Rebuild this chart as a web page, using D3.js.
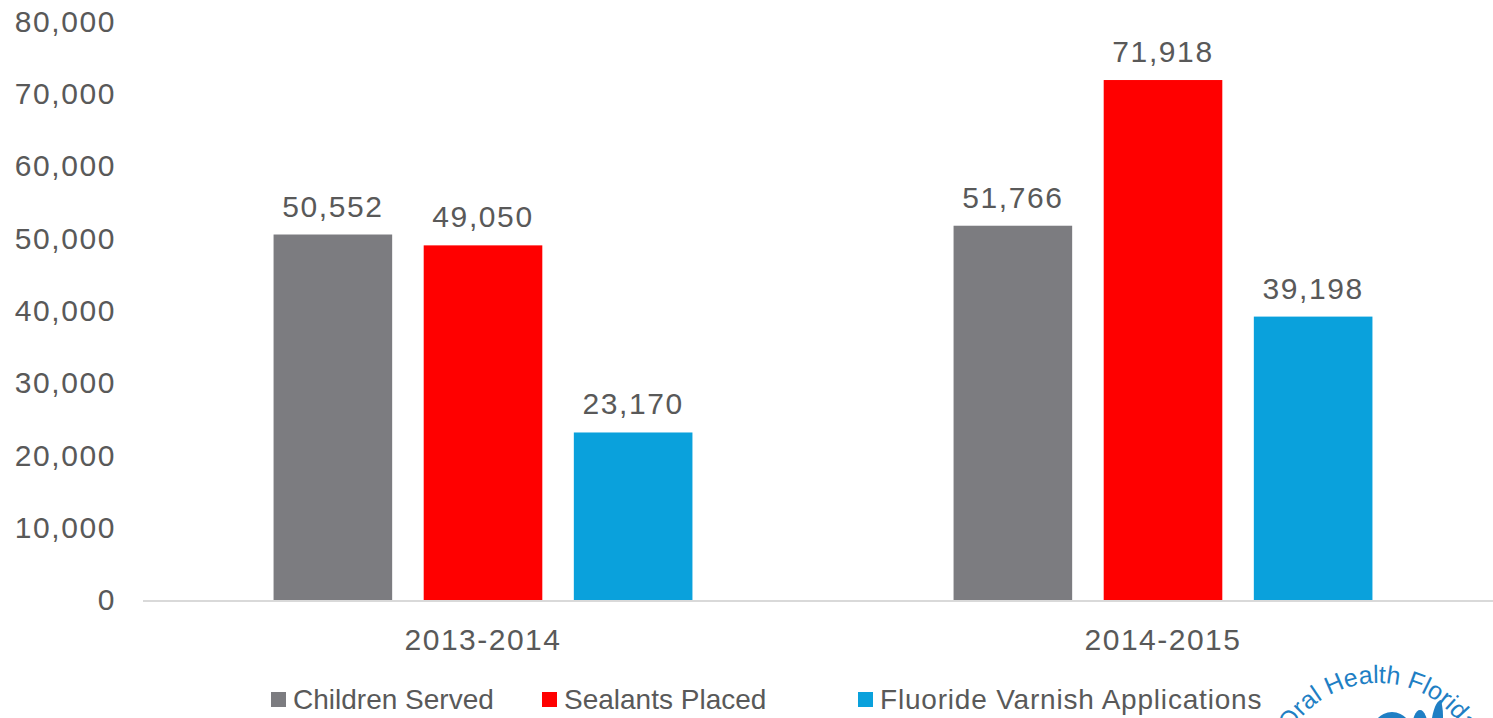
<!DOCTYPE html>
<html>
<head>
<meta charset="utf-8">
<script src="https://cdn.jsdelivr.net/npm/d3@7"></script>
<style>
  body { margin: 0; background: #fff; overflow: hidden; }
  text { font-family: "Liberation Sans", Arial, sans-serif; fill: #595959; }
</style>
</head>
<body>
<div id="chart"></div>
<script>
// --- Data ---
const years = ["2013-2014", "2014-2015"];
const seriesNames = ["Children Served", "Sealants Placed", "Fluoride Varnish Applications"];
const childrenServed = [50552, 51766];
const sealantsPlaced = [49050, 71918];
const fluorideVarnish = [23170, 39198];
const yTicks = [0, 10000, 20000, 30000, 40000, 50000, 60000, 70000, 80000];
const colors = ["#7c7c80", "#ff0000", "#0aa1dc"];

const seriesValues = [childrenServed, sealantsPlaced, fluorideVarnish];
const rows = years.map((y, i) => ({
  year: y,
  values: seriesNames.map((s, j) => ({ key: s, value: seriesValues[j][i], idx: j }))
}));

// --- SVG ---
const width = 1493, height = 718;
const svg = d3.select("#chart").append("svg")
  .attr("width", width)
  .attr("height", height);

// --- Scales ---
const y = d3.scaleLinear().domain([0, 80000]).range([600, 21.6]);

const x0 = d3.scaleBand()
  .domain(years)
  .range([143, 1503])
  .paddingInner(0.384)
  .paddingOuter(0.192);

const x1 = d3.scaleBand()
  .domain(seriesNames)
  .range([0, x0.bandwidth()])
  .paddingInner(0.21)
  .paddingOuter(0);

const fmt = d3.format(",");
const numFont = "'Liberation Sans', Arial, sans-serif";

// --- Y axis labels (no line, no ticks) ---
const yAxis = svg.append("g")
  .attr("transform", "translate(116,0)")
  .call(d3.axisLeft(y).tickValues(yTicks).tickFormat(fmt).tickSize(0).tickPadding(0));
yAxis.select(".domain").remove();
yAxis.selectAll("text")
  .style("font-size", "30px")
  .style("font-family", numFont)
  .style("letter-spacing", "1.6px")
  .attr("fill", "#595959");

// --- X axis ---
const xAxis = svg.append("g")
  .attr("transform", "translate(0,601)")
  .call(d3.axisBottom(x0).tickSize(0).tickPadding(28));
xAxis.select(".domain")
  .attr("d", "M143,0H1493")
  .attr("stroke", "#d9d9d9")
  .attr("stroke-width", 2);
xAxis.selectAll("text")
  .style("font-size", "30px")
  .style("font-family", numFont)
  .style("letter-spacing", "1.5px")
  .attr("fill", "#595959");

// --- Bars ---
const groups = svg.selectAll(".group")
  .data(rows)
  .enter()
  .append("g")
  .attr("class", "group")
  .attr("transform", d => `translate(${x0(d.year)},0)`);

groups.selectAll("rect")
  .data(d => d.values)
  .enter()
  .append("rect")
  .attr("x", d => x1(d.key))
  .attr("width", x1.bandwidth())
  .attr("y", d => y(d.value))
  .attr("height", d => y(0) - y(d.value))
  .attr("fill", d => colors[d.idx]);

groups.selectAll(".label")
  .data(d => d.values)
  .enter()
  .append("text")
  .attr("class", "label")
  .attr("x", d => x1(d.key) + x1.bandwidth() / 2)
  .attr("y", d => y(d.value) - 18)
  .attr("text-anchor", "middle")
  .style("font-size", "30px")
  .style("letter-spacing", "1.6px")
  .text(d => fmt(d.value));

// --- Legend ---
const legendX = [271, 542, 858];
const legend = svg.selectAll(".legend")
  .data(seriesNames)
  .enter()
  .append("g")
  .attr("class", "legend")
  .attr("transform", (d, i) => `translate(${legendX[i]},692)`);

legend.append("rect")
  .attr("width", 15)
  .attr("height", 15)
  .attr("fill", (d, i) => colors[i]);

legend.append("text")
  .attr("x", 22)
  .attr("y", 17)
  .style("font-size", "28px")
  .style("letter-spacing", (d, i) => i === 2 ? "0.8px" : "0px")
  .text(d => d);

// --- Logo (partially visible at the corner) ---
const logo = svg.append("g");
const cx = 1378, cy = 785, r = 102;
logo.append("path")
  .attr("id", "logoArc")
  .attr("d", `M${cx - r},${cy} A${r},${r} 0 0 1 ${cx + r},${cy}`)
  .attr("fill", "none");
logo.append("text")
  .style("font-size", "25px")
  .style("fill", "#1f7fc4")
  .append("textPath")
  .attr("href", "#logoArc")
  .attr("startOffset", "50%")
  .attr("text-anchor", "middle")
  .text("Oral Health Florida");
logo.append("ellipse")
  .attr("cx", 1392).attr("cy", 738).attr("rx", 22).attr("ry", 26)
  .attr("fill", "#1f7fc4");
logo.append("ellipse")
  .attr("cx", 1420).attr("cy", 730).attr("rx", 8).attr("ry", 20)
  .attr("fill", "#1f7fc4");
logo.append("path")
  .attr("d", "M1432,718 C1434,706 1438,700 1441,700 C1443,708 1443,714 1443,718 Z")
  .attr("fill", "#1f7fc4");
</script>
</body>
</html>
